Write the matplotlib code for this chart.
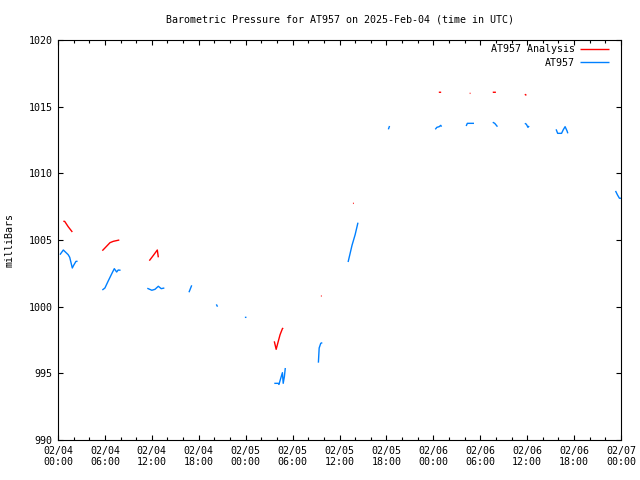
import numpy as np
import matplotlib
matplotlib.use("Agg")
import matplotlib.pyplot as plt

nan = np.nan

# hours since 2025-02-04 00:00 UTC; NaN separates gaps
analysis_hours = [0.68, 0.85, 1.3, 1.83, nan,
                  5.67, 6.0, 6.65, 7.07, 7.84, nan,
                  11.68, 12.2, 12.7, 12.83, nan,
                  27.66, 27.9, 28.17, 28.4, 28.7, 28.8, nan,
                  33.62, 33.72, nan,
                  37.72, 37.82, nan,
                  48.7, 49.0, nan,
                  52.65, 52.75, nan,
                  55.6, 56.0, nan,
                  59.7, 59.9]
analysis_mb = [1006.4, 1006.4, 1006.0, 1005.6, nan,
               1004.2, 1004.4, 1004.8, 1004.9, 1005.0, nan,
               1003.45, 1003.85, 1004.25, 1003.7, nan,
               997.4, 996.8, 997.4, 997.9, 998.35, 998.4, nan,
               1000.8, 1000.8, nan,
               1007.75, 1007.75, nan,
               1016.08, 1016.08, nan,
               1016.0, 1016.0, nan,
               1016.08, 1016.08, nan,
               1015.93, 1015.85]

obs_hours = [0.25, 0.68, 1.3, 1.5, 1.83, 2.0, 2.3, 2.5, nan,
             5.67, 6.0, 6.4, 6.9, 7.2, 7.5, 7.7, 8.0, nan,
             11.42, 12.0, 12.4, 12.83, 13.2, 13.6, nan,
             16.75, 17.1, nan,
             20.25, 20.4, nan,
             23.9, 24.1, nan,
             27.66, 28.17, 28.26, 28.47, 28.7, 28.8, 28.95, 29.07, nan,
             33.3, 33.4, 33.6, 33.8, nan,
             37.1, 37.6, 38.0, 38.36, nan,
             42.25, 42.4, nan,
             48.25, 48.45, 48.75, 48.95, 49.05, nan,
             52.2, 52.35, 53.2, nan,
             55.6, 55.85, 56.2, nan,
             59.7, 59.9, 60.1, 60.25, nan,
             63.7, 63.9, 64.4, 64.6, 64.85, 65.1, 65.2, nan,
             71.3, 71.55, 71.8, 72.0]
obs_mb = [1003.9, 1004.25, 1003.9, 1003.7, 1002.9, 1003.1, 1003.4, 1003.4, nan,
          1001.25, 1001.4, 1001.9, 1002.5, 1002.85, 1002.6, 1002.75, 1002.73, nan,
          1001.38, 1001.23, 1001.3, 1001.53, 1001.35, 1001.4, nan,
          1001.08, 1001.6, nan,
          1000.17, 1000.0, nan,
          999.2, 999.2, nan,
          994.25, 994.25, 994.17, 994.6, 995.05, 994.25, 994.75, 995.4, nan,
          995.8, 996.9, 997.25, 997.3, nan,
          1003.35, 1004.6, 1005.4, 1006.3, nan,
          1013.3, 1013.55, nan,
          1013.3, 1013.45, 1013.5, 1013.6, 1013.5, nan,
          1013.55, 1013.75, 1013.75, nan,
          1013.83, 1013.75, 1013.5, nan,
          1013.75, 1013.68, 1013.45, 1013.55, nan,
          1013.3, 1013.0, 1013.0, 1013.25, 1013.5, 1013.18, 1013.0, nan,
          1008.68, 1008.38, 1008.13, 1008.13]

tick_hours = list(range(0, 73, 6))
tick_labels = ["02/04\n00:00", "02/04\n06:00", "02/04\n12:00", "02/04\n18:00",
               "02/05\n00:00", "02/05\n06:00", "02/05\n12:00", "02/05\n18:00",
               "02/06\n00:00", "02/06\n06:00", "02/06\n12:00", "02/06\n18:00",
               "02/07\n00:00"]

font = "DejaVu Sans Mono"
plt.rcParams['font.family'] = font

fig = plt.figure(figsize=(6.4, 4.8), dpi=100)
ax = fig.add_axes([58/640, 1-440/480, (621-58)/640, 400/480])

ax.plot(analysis_hours, analysis_mb, color="#ff0000", lw=1.0,
        label="AT957 Analysis", solid_capstyle='butt')
ax.plot(obs_hours, obs_mb, color="#0080ff", lw=1.0, label="AT957",
        solid_capstyle='butt')

ax.set_xlim(0, 72)
ax.set_ylim(990, 1020)
ax.set_xticks(tick_hours)
ax.set_xticklabels(tick_labels, fontsize=7.2)
ax.set_xticks(range(0, 73, 2), minor=True)
ax.set_yticks(range(990, 1021, 5))
ax.set_yticklabels([str(v) for v in range(990, 1021, 5)], fontsize=7.2)
ax.tick_params(which='both', direction='in', top=True, right=True, width=0.8)
ax.tick_params(which='major', length=3.5, pad=4)
ax.tick_params(which='minor', length=2)
for s in ax.spines.values():
    s.set_linewidth(0.8)

ax.set_ylabel("milliBars", fontsize=7.2, labelpad=10)
fig.text(339.5/640, 1-19/480,
         "Barometric Pressure for AT957 on 2025-Feb-04 (time in UTC)",
         fontsize=7.2, ha='center', va='center')

leg = ax.legend(loc='upper right', fontsize=7.2, frameon=False,
                markerfirst=False, handlelength=2.9, handletextpad=0.5,
                borderaxespad=0.2, labelspacing=0.3,
                bbox_to_anchor=(1 - 6/563, 1 + 1.5/400))
for t in leg.get_texts():
    t.set_ha('right')

fig.savefig("out.png", dpi=100)
